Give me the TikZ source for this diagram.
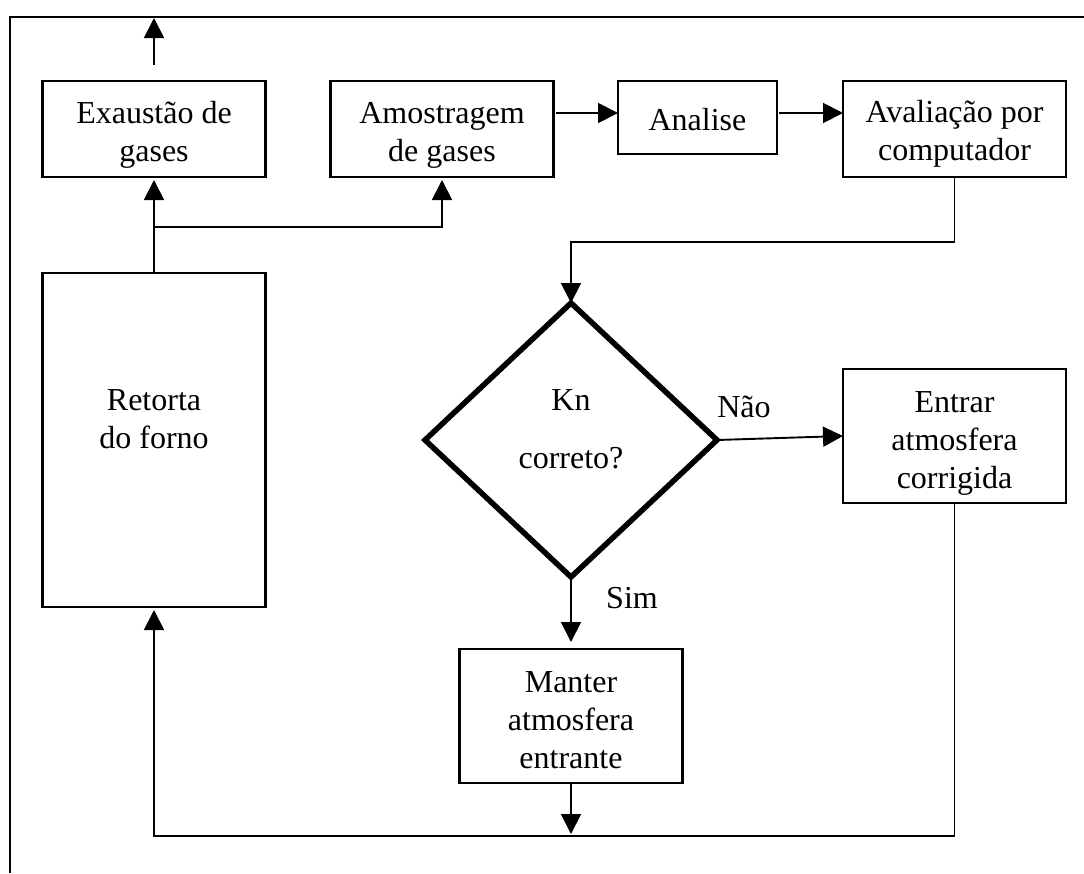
\documentclass[tikz,border=0pt]{standalone}
\usepackage{fontspec}
\setmainfont{Liberation Serif}
\usetikzlibrary{arrows.meta,shapes.geometric}
\begin{document}
\begin{tikzpicture}[x=1pt,y=-1pt,
  box/.style={draw,line width=2.2pt,inner sep=0pt,outer sep=0pt},
  conn/.style={line width=1.9pt,-{Triangle[length=20pt,width=20pt]}},
  lbl/.style={font=\fontsize{32pt}{38pt}\selectfont,inner sep=0pt,align=center},
  frame/.style={line width=2.5pt}]
\useasboundingbox (0,0) rectangle (1084,873);

% frame (top and left edges)
\coordinate (fr) at (1084,17);
\coordinate (fc) at (10,17);
\coordinate (fb) at (10,873);
\draw[frame] (fr) -- (fc) -- (fb);

% boxes
\node[box,minimum width=223pt,minimum height=96pt,
  label={[lbl,yshift=-6pt]center:Exaustão de\\gases}] (exa) at (154,129) {};
\node[box,minimum width=223pt,minimum height=96pt,
  label={[lbl,yshift=-6pt]center:Amostragem\\de gases}] (amo) at (442,129) {};
\node[box,minimum width=159pt,minimum height=73pt,
  label={[lbl,yshift=-2pt]center:Analise}] (ana) at (697.5,117.5) {};
\node[box,minimum width=223pt,minimum height=96pt,
  label={[lbl,yshift=-5pt]center:Avaliação por\\computador}] (ava) at (954.5,129) {};
\node[box,minimum width=223pt,minimum height=334pt,
  label={[lbl,yshift=21pt]center:Retorta\\do forno}] (ret) at (154,440) {};
\node[draw,shape=diamond,line width=5.5pt,inner sep=0pt,outer sep=0pt,
      minimum width=292pt,minimum height=274pt,
      label={[lbl,yshift=11pt]center:Kn\\[20pt]correto?}] (dec) at (571,440) {};
\node[box,minimum width=223pt,minimum height=134pt,
  label={[lbl,yshift=-7pt]center:Entrar\\atmosfera\\corrigida}] (ent) at (954.5,436) {};
\node[box,minimum width=223pt,minimum height=134pt,
  label={[lbl,yshift=-4pt]center:Manter\\atmosfera\\entrante}] (man) at (571,716) {};

% labels
\node[lbl] (nao) at (744,407) {Não};
\node[lbl] (sim) at (632,598) {Sim};

% helper coordinates
\coordinate (exhtop) at (154,18);
\coordinate (jn) at (154,227);
\coordinate (a1) at (0,113);
\coordinate (bl) at (0,836);

% connectors
\draw[conn] ([yshift=16pt]exa.north) -- (exhtop);
\draw[conn,shorten >=3pt] (ret.north) -- (exa.south);
\draw[conn,shorten >=3pt] (jn) -| (amo.south);
\draw[conn] ([xshift=2pt]amo.east |- a1) -- (ana.west |- a1);
\draw[conn] ([xshift=2pt]ana.east |- a1) -- (ava.west |- a1);
\draw[conn] (ava.south) -- ++(0,65) -| (dec.north);
\draw[conn] (dec.east) -- (ent.west);
\draw[conn,shorten >=7pt] (dec.south) -- (man.north);
\draw[conn,shorten >=2pt] (man.south) -- (man.south |- bl);
\draw[conn,shorten >=3pt] (ent.south) |- (ret.south |- bl) -- (ret.south);
\end{tikzpicture}
\end{document}
